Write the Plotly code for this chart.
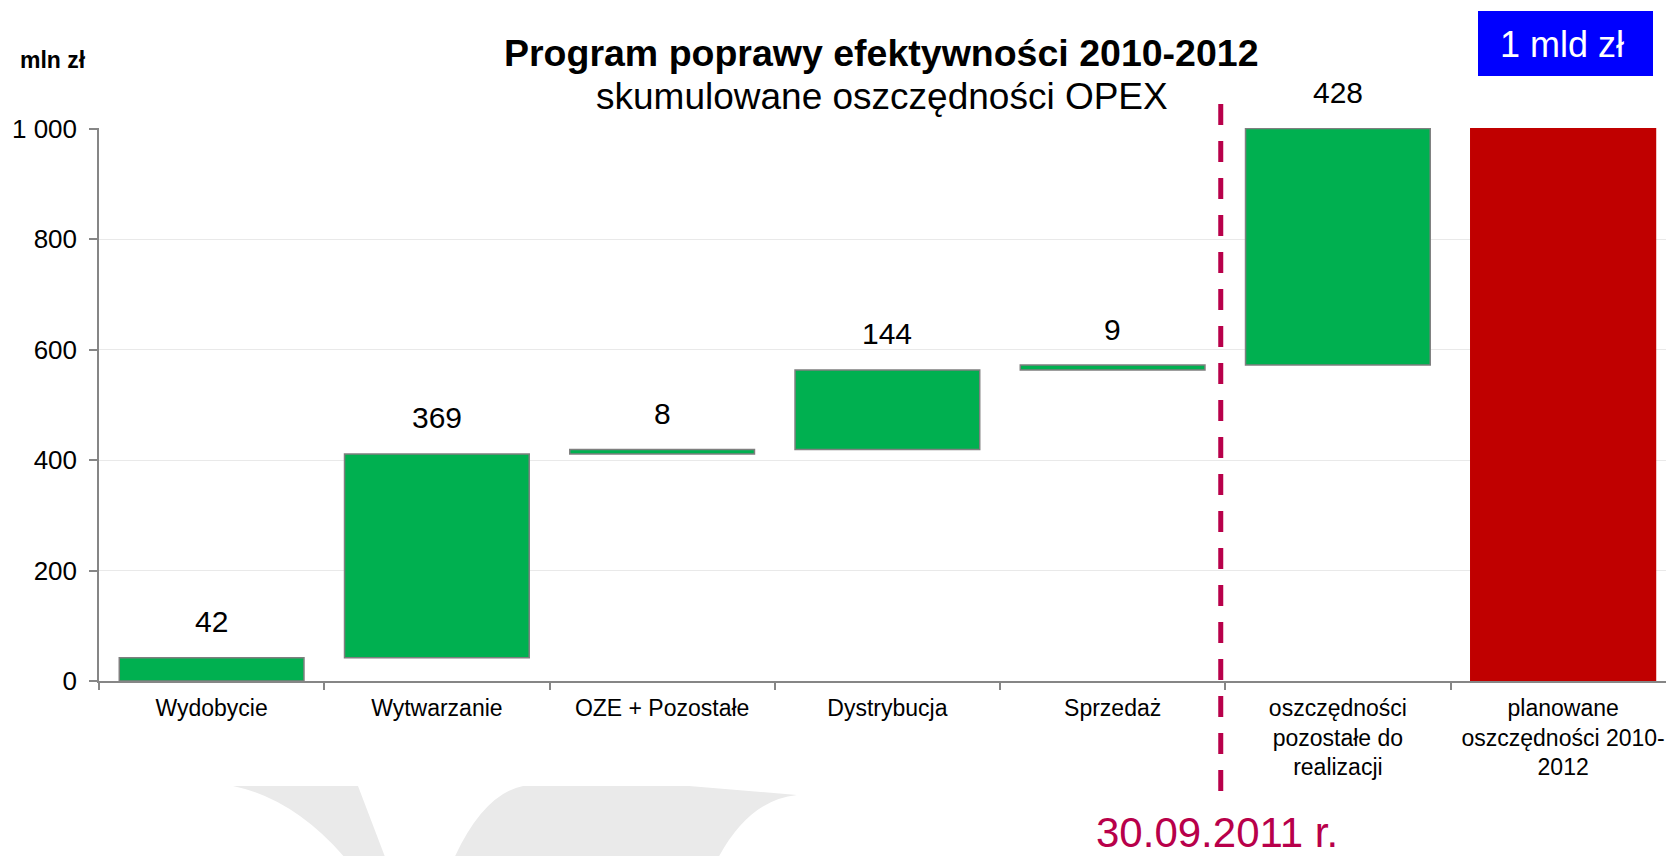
import plotly.graph_objects as go

# ---------------- data ----------------
categories = [
    "Wydobycie",
    "Wytwarzanie",
    "OZE + Pozostałe",
    "Dystrybucja",
    "Sprzedaż",
    "oszczędności<br>pozostałe do<br>realizacji",
    "planowane<br>oszczędności 2010-<br>2012",
]
achieved_savings = [42, 369, 8, 144, 9]      # realised by 30.09.2011
remaining_savings = 428                       # still to be realised
planned_total = 1000                          # planned 2010-2012
y_tick_values = [0, 200, 400, 600, 800, 1000]
y_tick_labels = ["0", "200", "400", "600", "800", "1 000"]

title_text = "Program poprawy efektywności 2010-2012"
subtitle_text = "skumulowane oszczędności OPEX"
unit_text = "mln zł"
badge_text = "1 mld zł"
date_text = "30.09.2011 r."

# ---------------- derived (waterfall) ----------------
step_values = achieved_savings + [remaining_savings]
bases, running = [], 0
for v in step_values:
    bases.append(running)
    running += v
heights = step_values + [planned_total]
bases = bases + [0]

GREEN = "#00B050"
RED = "#C00000"
CRIMSON = "#B8004A"
FONT = "Liberation Sans, Arial, sans-serif"

colors = [GREEN] * len(step_values) + [RED]
outline = ["#7F7F7F"] * len(step_values) + [RED]

W, H = 1666, 856
ML, MR, MT, MB = 99, 0, 128, 175
PW, PH = W - ML - MR, H - MT - MB


def px(xp, yp):
    """pixel -> paper coordinates (for decoration only)."""
    return (xp - ML) / PW, (H - MB - yp) / PH


fig = go.Figure()
fig.add_trace(go.Bar(
    x=categories, y=heights, base=bases,
    marker=dict(color=colors, line=dict(color=outline, width=1.5)),
    width=0.82, showlegend=False, hoverinfo="skip",
))

annotations = []
for cat, b, v in zip(categories, bases, step_values):
    annotations.append(dict(
        x=cat, y=b + v, xref="x", yref="y", text=str(v), showarrow=False,
        yshift=36, yanchor="middle", font=dict(size=30, color="#000", family=FONT),
    ))

# title/subtitle/unit/badge/date
def ann(text, xp, yp, size, color="#000", xanchor="center", bold=False):
    x, y = px(xp, yp)
    return dict(text=("<b>%s</b>" % text) if bold else text, x=x, y=y,
                xref="paper", yref="paper", showarrow=False,
                xanchor=xanchor, yanchor="middle",
                font=dict(size=size, color=color, family=FONT))

annotations += [
    ann(title_text, 881.5, 53, 37.5, bold=True),
    ann(subtitle_text, 882, 96, 37),
    ann(unit_text, 18, 60, 23, xanchor="left", bold=True),
    ann(badge_text, 1562, 44, 36, color="#FFFFFF"),
    ann(date_text, 1217, 832, 42, color=CRIMSON),
]

shapes = []
# blue badge
bx0, by0 = px(1478, 76)
bx1, by1 = px(1653, 11)
shapes.append(dict(type="rect", xref="paper", yref="paper", x0=bx0, y0=by0,
                   x1=bx1, y1=by1, fillcolor="#0000FF", line=dict(width=0),
                   layer="above"))
# dashed divider
_, dy_top = px(0, 104)
_, dy_bot = px(0, 797)
shapes.append(dict(type="line", xref="x", yref="paper", x0=4.48, x1=4.48,
                   y0=dy_top, y1=dy_bot,
                   line=dict(color=CRIMSON, width=5, dash="21px,16px"),
                   layer="above"))

# light grey watermark (logo fragments)
def path(points_cmds):
    out = []
    for cmd, pts in points_cmds:
        coords = " ".join("%.5f,%.5f" % px(a, b) for a, b in pts)
        out.append(cmd + " " + coords)
    return " ".join(out) + " Z"

wm1 = path([
    ("M", [(233, 786)]),
    ("L", [(358, 786)]),
    ("L", [(390, 870)]),
    ("L", [(355, 870)]),
    ("Q", [(300, 800), (233, 786)]),
])
wm2 = path([
    ("M", [(523, 786)]),
    ("L", [(689, 786)]),
    ("L", [(797, 795)]),
    ("Q", [(745, 800), (712, 870)]),
    ("L", [(449, 870)]),
    ("Q", [(480, 795), (523, 786)]),
])
for p in (wm1, wm2):
    shapes.append(dict(type="path", path=p, xref="paper", yref="paper",
                       fillcolor="#EAEAEA", line=dict(width=0), layer="below"))

fig.update_layout(
    width=W, height=H, autosize=False,
    margin=dict(l=ML, r=MR, t=MT, b=MB, pad=0),
    paper_bgcolor="#FFFFFF", plot_bgcolor="rgba(0,0,0,0)",
    font=dict(family=FONT, color="#000"),
    bargap=0.18,
    annotations=annotations, shapes=shapes,
    xaxis=dict(
        type="category", range=[-0.5, -0.5 + PW / 225.25],
        tickson="boundaries", ticks="outside", ticklen=7, tickwidth=1.5,
        tickcolor="#868686", showline=True, linecolor="#868686", linewidth=2,
        showgrid=False, tickfont=dict(size=23, color="#000", family=FONT),
        ticklabelstandoff=5, fixedrange=True,
    ),
    yaxis=dict(
        range=[0, 1001], tickvals=y_tick_values, ticktext=y_tick_labels,
        ticks="outside", ticklen=8, tickwidth=1.5, tickcolor="#868686",
        showline=True, linecolor="#868686", linewidth=1.5,
        showgrid=True, gridcolor="#E9E9E9", gridwidth=1, zeroline=False,
        tickfont=dict(size=26, color="#000", family=FONT),
        ticklabelstandoff=7, fixedrange=True,
    ),
)

fig.write_html("out.html", config={"displayModeBar": False},
               post_script="document.body.style.margin='0';")
